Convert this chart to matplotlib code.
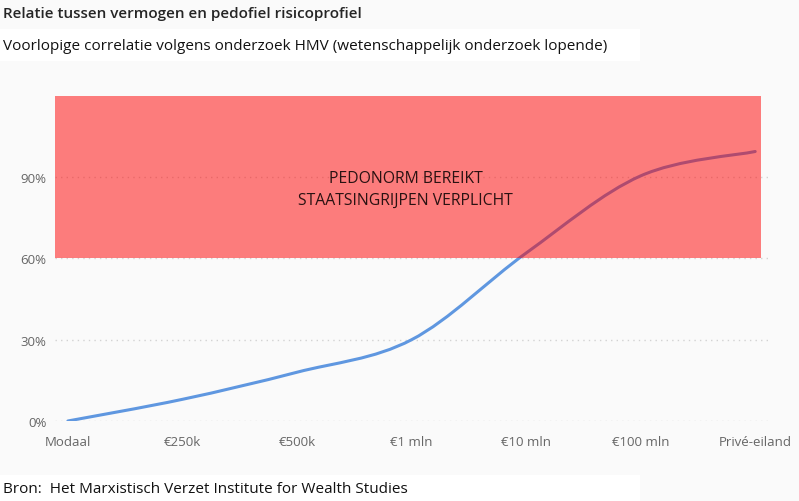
import numpy as np
import matplotlib.pyplot as plt
import matplotlib.patches as patches
from matplotlib.path import Path

# data
categories = ['Modaal', '€250k', '€500k', '€1 mln', '€10 mln', '€100 mln', 'Privé-eiland']
risico = [0, 8, 18, 30, 62, 90.5, 99.5]
zone_lo = 60
zone_hi = 120
y_ticks = [0, 30, 60, 90]

plt.rcParams['font.family'] = ['Open Sans', 'DejaVu Sans']

fig = plt.figure(figsize=(7.99, 5.02), dpi=100)
fig.patch.set_facecolor('#fafafa')
ax = fig.add_axes([0.0688, 0.1594, 0.895, 0.6474])
ax.set_facecolor('#fafafa')

xs = np.arange(len(categories))
ys = np.array(risico, dtype=float)

# smooth curve as bezier segments through the points (catmull-rom style)
verts = [(xs[0], ys[0])]
codes = [Path.MOVETO]
n = len(xs)
for i in range(n - 1):
    p0 = (xs[max(i - 1, 0)], ys[max(i - 1, 0)])
    p1 = (xs[i], ys[i])
    p2 = (xs[i + 1], ys[i + 1])
    p3 = (xs[min(i + 2, n - 1)], ys[min(i + 2, n - 1)])
    c1 = (p1[0] + (p2[0] - p0[0]) / 6, p1[1] + (p2[1] - p0[1]) / 6)
    c2 = (p2[0] - (p3[0] - p1[0]) / 6, p2[1] - (p3[1] - p1[1]) / 6)
    verts += [c1, c2, p2]
    codes += [Path.CURVE4] * 3
curve = patches.PathPatch(Path(verts, codes), fc='none', ec='#5f97e0', lw=2.2,
                          capstyle='round', zorder=3)
ax.add_patch(curve)

# red zone on top
r = patches.Rectangle((-0.113, zone_lo), 6.05 + 0.113, zone_hi - zone_lo,
                      fc='#ff0000', alpha=0.5, ec='none', zorder=4)
ax.add_patch(r)

ax.text(2.95, 85.8, 'PEDONORM BEREIKT\nSTAATSINGRIJPEN VERPLICHT',
        ha='center', va='center', fontsize=11.3, color='#2a1212',
        linespacing=1.5, zorder=5)

ax.set_xlim(-0.113, 6.13)
ax.set_ylim(0, 120)
ax.set_xticks(xs)
ax.set_xticklabels(categories)
ax.set_yticks(y_ticks)
ax.set_yticklabels([f'{v}%' for v in y_ticks])
ax.tick_params(length=0, labelsize=9.5, labelcolor='#666666', pad=6)
ax.tick_params(axis='x', pad=10)
for s in ax.spines.values():
    s.set_visible(False)
for v in y_ticks:
    ax.axhline(v, color='#d2d2d2', lw=1, linestyle=(0, (1, 3)), zorder=1)

# header and footer
fig.patches.append(patches.Rectangle((0, 1 - 62 / 502), 640 / 799, 32 / 502,
                                     transform=fig.transFigure, fc='white', ec='none'))
fig.patches.append(patches.Rectangle((0, 0), 640 / 799, 26 / 502,
                                     transform=fig.transFigure, fc='white', ec='none'))
fig.text(0.004, 1 - 14 / 502, 'Relatie tussen vermogen en pedofiel risicoprofiel',
         fontsize=11, fontweight='semibold', color='#252525', va='center')
fig.text(0.004, 1 - 46 / 502,
         'Voorlopige correlatie volgens onderzoek HMV (wetenschappelijk onderzoek lopende)',
         fontsize=11, color='#111111', va='center')
fig.text(0.004, 1 - 490 / 502, 'Bron:  Het Marxistisch Verzet Institute for Wealth Studies',
         fontsize=11, color='#111111', va='center')

plt.savefig('out.png', dpi=100, facecolor=fig.get_facecolor())
